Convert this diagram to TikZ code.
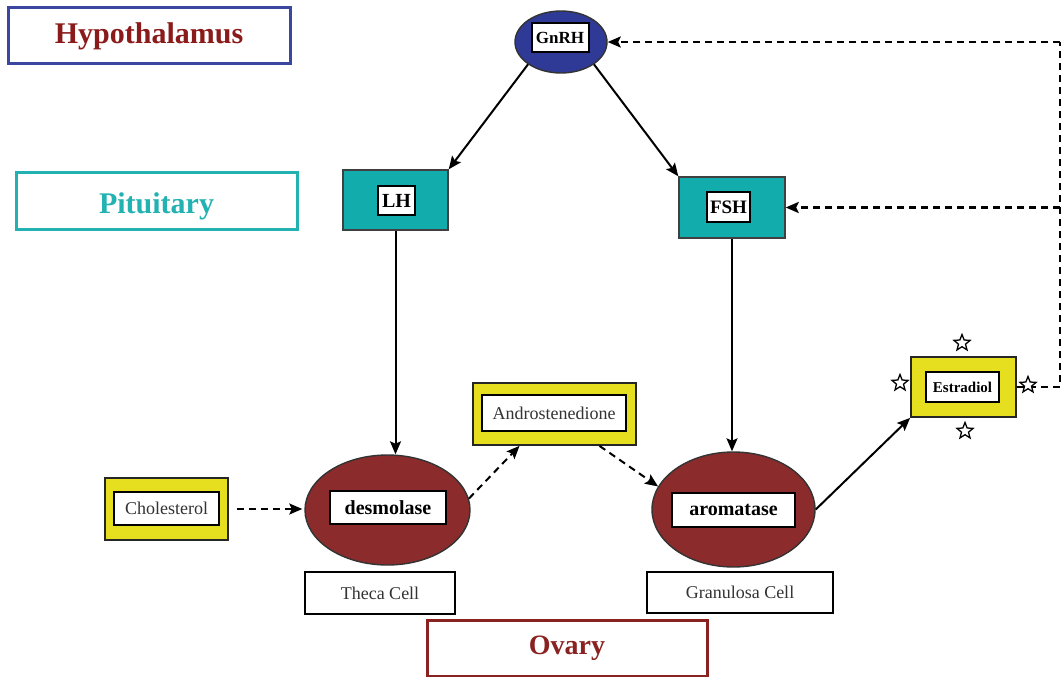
\documentclass[tikz,border=0pt]{standalone}
\usepackage{fontspec}
\setmainfont{Liberation Serif}
\usetikzlibrary{shapes.geometric,arrows.meta}

\definecolor{hypoBlue}{HTML}{3A46A0}
\definecolor{hypoText}{HTML}{8B1A1A}
\definecolor{pitTeal}{HTML}{22B2B2}
\definecolor{ovaryRed}{HTML}{8B2222}
\definecolor{gnrhFill}{HTML}{2E3A96}
\definecolor{tealFill}{HTML}{12ACAC}
\definecolor{cellRed}{HTML}{8B2B2B}
\definecolor{steroidYellow}{HTML}{E6DF1F}
\definecolor{plainText}{HTML}{333333}

\tikzset{
  wh/.style 2 args={minimum width=#1pt, minimum height=#2pt},
  region/.style={draw, line width=3pt, fill=white, inner sep=0pt,
    font=\fontsize{30}{32}\selectfont\bfseries},
  hormone/.style={draw=black!75, line width=1.4pt, fill=tealFill, inner sep=0pt},
  enzyme/.style={ellipse, draw=black!80, line width=1.4pt, fill=cellRed, inner sep=0pt},
  steroid/.style={draw=black!85, line width=1.8pt, fill=steroidYellow, inner sep=0pt},
  tag/.style={draw=black, line width=2pt, fill=white, inner sep=0pt, text=black},
  plain/.style={tag, text=plainText, font=\fontsize{18}{20}\selectfont},
  halo/.style={star, star points=5, star point ratio=2.3, draw=black, fill=white,
    line width=1.3pt, minimum size=17pt, inner sep=0pt},
  arr/.style={line width=2pt, -{Stealth[length=13pt,width=11pt,inset=2.5pt]}},
  dasharr/.style={arr, dash pattern=on 7pt off 5pt},
  feed/.style={line width=2.6pt, dash pattern=on 7pt off 5pt}
}

\begin{document}
\begin{tikzpicture}[x=1pt,y=-1pt]
\useasboundingbox (0,0) rectangle (1063,677);

% level labels
\node[region, draw=hypoBlue, text=hypoText, wh={282}{56}] (hypo) at (149,36) {Hypothalamus};
\node[region, draw=pitTeal, text=pitTeal, wh={281}{57}, text height=25pt, text depth=0pt] (pit) at (156.5,200.5) {Pituitary};
\node[region, draw=ovaryRed, text=ovaryRed, wh={280}{56}, font=\fontsize{28}{30}\selectfont\bfseries] (ovary) at (567,648) {Ovary};

% hypothalamus
\node[ellipse, draw=black!80, line width=1.4pt, fill=gnrhFill, wh={92}{62}, inner sep=0pt] (gnrh) at (561,42) {};
\node[tag, wh={57}{29}, font=\fontsize{17}{19}\selectfont\bfseries] (gnrhT) at (560,38) {GnRH};

% pituitary hormones
\node[hormone, wh={105}{60}] (lh) at (395.5,200) {};
\node[tag, wh={37}{29}, font=\fontsize{20}{22}\selectfont\bfseries] (lhT) at (396.5,200.5) {LH};
\node[hormone, wh={106}{61}] (fsh) at (732,207.5) {};
\node[tag, wh={43}{30}, font=\fontsize{19}{21}\selectfont\bfseries] (fshT) at (728.5,207) {FSH};

% ovarian cells
\node[enzyme, wh={165}{110}] (desm) at (387.5,510) {};
\node[tag, wh={116}{33}, font=\fontsize{20}{22}\selectfont\bfseries] (desmT) at (388,507.5) {desmolase};
\node[enzyme, wh={163}{115}] (arom) at (733.5,509.5) {};
\node[tag, wh={123}{34}, font=\fontsize{20}{22}\selectfont\bfseries] (aromT) at (733.5,510) {aromatase};
\node[plain, wh={150}{42}] (theca) at (380,593) {Theca Cell};
\node[plain, wh={186}{41}] (gran) at (740,592.5) {Granulosa Cell};

% steroids
\node[steroid, wh={123}{62}] (chol) at (166.5,509) {};
\node[plain, wh={105}{33}] (cholT) at (166.5,508.5) {Cholesterol};
\node[steroid, wh={163}{62}] (andro) at (554.5,414) {};
\node[plain, wh={144}{36}] (androT) at (554,413) {Androstenedione};
\node[steroid, wh={105}{60}] (estr) at (963.5,387) {};
\node[tag, wh={73}{30}, font=\fontsize{15}{17}\selectfont\bfseries] (estrT) at (962.5,387) {Estradiol};

% stimulation pathway
\draw[arr] (gnrh.south west) -- (lh.north east);
\draw[arr] (gnrh.south east) -- (fsh.north west);
\draw[arr] (lh.south) -- (lh.south |- desm.north);
\draw[arr] (fsh.south) -- (fsh.south |- arom.north);
\draw[dasharr, shorten <=8pt, shorten >=2pt] (chol.east) -- (chol.east -| desm.west);
\draw[dasharr] (desm.8) -- ([xshift=-35pt]andro.south);
\draw[dasharr] ([xshift=45pt]andro.south) -- (arom.163);
\draw[arr] (arom.east) -- (estr.south west);

% negative feedback loop
\coordinate (fbLow) at (1060,387);
\coordinate (fbMid) at (1060,207.5);
\coordinate (fbTop) at (1060,42);
\draw[feed] (estr.east) -- (fbLow) -- (fbTop);
\draw[dasharr, line width=2.4pt] (fbTop) -- (gnrh.east);
\draw[dasharr, line width=2.4pt] (fbMid) -- (fsh.east);

% stars around estradiol
\node[halo] (starN) at (962,343) {};
\node[halo] (starW) at (900,383) {};
\node[halo] (starE) at (1028,385) {};
\node[halo] (starS) at (965,431) {};
\end{tikzpicture}
\end{document}
